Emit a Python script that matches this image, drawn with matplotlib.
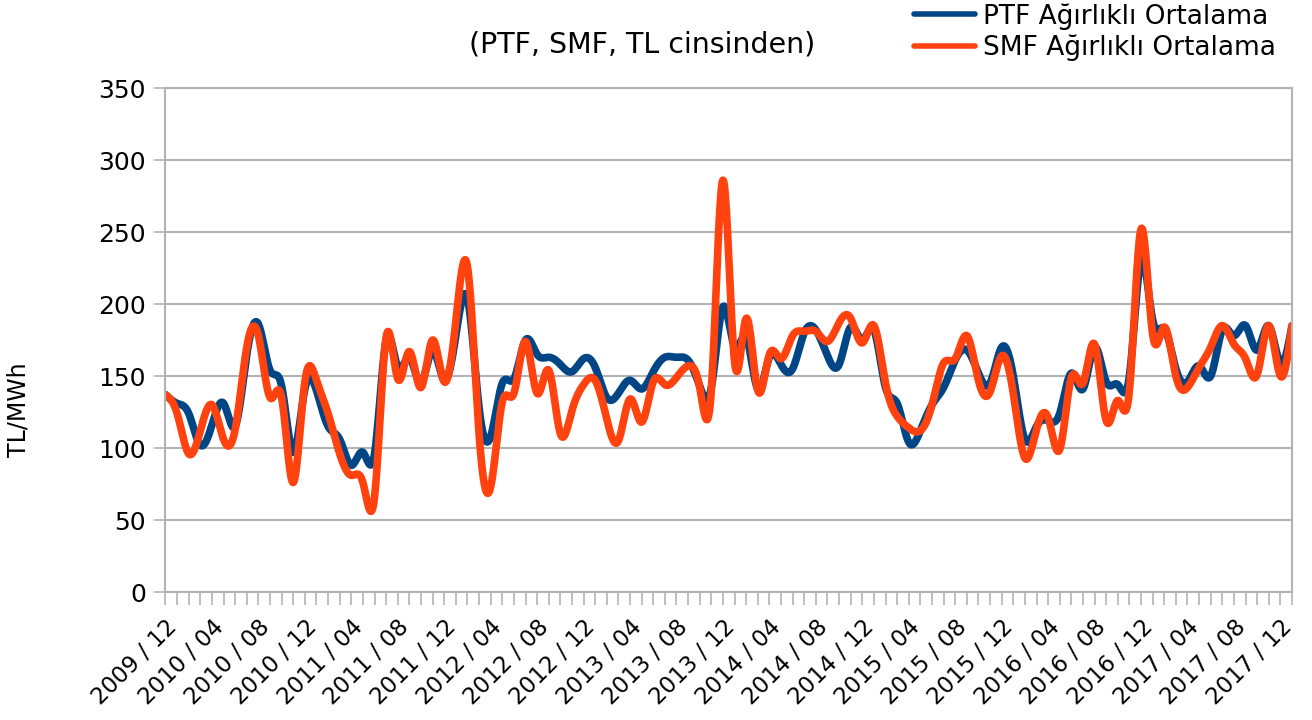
import numpy as np
import matplotlib
matplotlib.use("Agg")
import matplotlib.pyplot as plt

# monthly points 2009/12 .. 2018/01
months = []
for k in range(98):
    m = (11 + k) % 12 + 1
    yr = 2009 + (11 + k) // 12
    months.append("%d / %02d" % (yr, m))

ptf = [137, 131, 124, 102, 116, 131, 115, 165, 186, 154, 143, 97, 141, 140, 115, 106, 88, 97, 96, 175,
       156, 163, 145, 168, 147, 178, 204, 128, 108, 145, 148, 175, 165, 163, 158, 153, 162, 156, 135, 138,
       147, 141, 153, 163, 163, 161, 143, 142, 198, 170, 177, 141, 163, 158, 155, 180, 182, 164, 158, 184,
       175, 182, 142, 131, 104, 112, 130, 142, 161, 168, 152, 145, 170, 150, 106, 115, 119, 124, 152, 141,
       170, 146, 144, 150, 230, 189, 183, 155, 146, 157, 150, 182, 178, 185, 168, 185, 159, 185]

smf = [137, 124, 96, 112, 130, 106, 113, 170, 178, 135, 135, 76, 146, 147, 124, 96, 81, 76, 66, 177,
       148, 167, 142, 175, 146, 188, 226, 110, 73, 132, 138, 174, 138, 154, 110, 126, 144, 147, 120, 105,
       134, 118, 146, 144, 149, 157, 142, 140, 286, 160, 190, 140, 165, 162, 178, 181, 181, 174, 187, 190,
       173, 185, 145, 122, 114, 112, 130, 159, 162, 178, 147, 139, 164, 138, 93, 113, 121, 99, 149, 145,
       172, 119, 133, 140, 252, 179, 184, 150, 142, 156, 170, 185, 172, 162, 151, 185, 150, 185]


def smooth(y, n=20):
    # natural cubic spline through the points
    y = np.asarray(y, float)
    N = len(y)
    A = np.zeros((N, N))
    b = np.zeros(N)
    A[0, 0] = 1
    A[-1, -1] = 1
    for i in range(1, N - 1):
        A[i, i - 1] = 1
        A[i, i] = 4
        A[i, i + 1] = 1
        b[i] = 6 * (y[i + 1] - 2 * y[i] + y[i - 1])
    M = np.linalg.solve(A, b)
    xs, ys = [], []
    for i in range(N - 1):
        t = np.linspace(0, 1, n, endpoint=False)
        yy = ((1 - t) * y[i] + t * y[i + 1]
              + ((1 - t) ** 3 - (1 - t)) * M[i] / 6 + (t ** 3 - t) * M[i + 1] / 6)
        xs.extend(i + t)
        ys.extend(yy)
    xs.append(N - 1)
    ys.append(y[-1])
    return np.array(xs), np.array(ys)


fig = plt.figure(figsize=(13.12, 7.2), dpi=100)
ax = fig.add_axes([165.5 / 1312, 1 - 592 / 720, 1126.5 / 1312, 504 / 720])

x1, y1 = smooth(ptf)
x2, y2 = smooth(smf)
ax.plot(x1, y1, color="#004586", lw=5.5, label="PTF Ağırlıklı Ortalama", solid_capstyle="round")
ax.plot(x2, y2, color="#ff420e", lw=5.5, label="SMF Ağırlıklı Ortalama", solid_capstyle="round")

ax.set_xlim(0, len(months) - 1)
ax.set_ylim(0, 350)
ax.set_yticks(range(0, 351, 50))
ax.set_xticks(range(0, 97, 4))
ax.set_xticks(range(len(months)), minor=True)
ax.set_xticklabels(months[0:97:4], rotation=45, ha="right", rotation_mode="anchor", fontsize=16.5)
ax.tick_params(axis="y", labelsize=18, length=8, color="#b3b3b3", width=1.2, pad=6)
ax.tick_params(axis="x", which="both", length=9, color="#b3b3b3", width=1.2, pad=8)
ax.grid(axis="y", color="#b3b3b3", lw=1.5)
ax.set_axisbelow(True)
for s in ax.spines.values():
    s.set_color("#b3b3b3")
    s.set_linewidth(1.5)

fig.text(19 / 1312, 1 - 410 / 720, "TL/MWh", rotation=90, fontsize=17, ha="center", va="center")
fig.text(642 / 1312, 1 - 45 / 720, "(PTF, SMF, TL cinsinden)", fontsize=20.5, ha="center", va="center")

leg = fig.legend(loc="upper left", bbox_to_anchor=(914 / 1312, 1 - 3 / 720), frameon=False, fontsize=19,
                 handlelength=2.3, labelspacing=0.2, handletextpad=0.3, borderpad=0, borderaxespad=0)
for ln in leg.get_lines():
    ln.set_linewidth(4)

fig.savefig("out.png", dpi=100)
